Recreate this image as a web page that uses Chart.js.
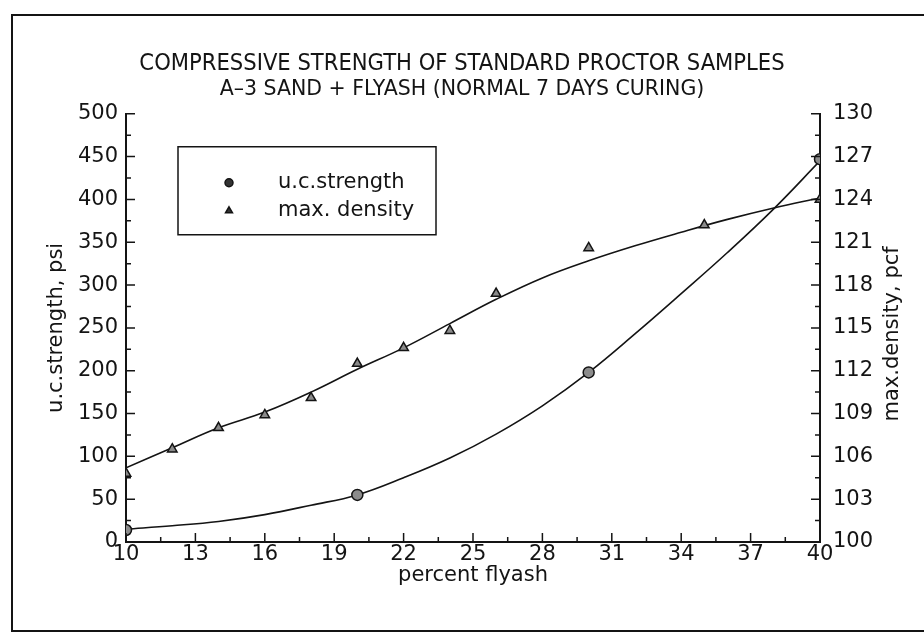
<!DOCTYPE html>
<html>
<head>
<meta charset="utf-8">
<script src="https://cdn.jsdelivr.net/npm/chart.js@4.4.0/dist/chart.umd.min.js"></script>
<style>
  html, body { margin: 0; padding: 0; background: #fff; }
  #wrap { width: 924px; height: 644px; }
</style>
</head>
<body>
<div id="wrap"><canvas id="myChart" width="924" height="644"></canvas></div>
<script>
// measured points
const strengthFlyash = [10, 20, 30, 40];
const strength = [14, 55, 198, 447];
const densityFlyash = [10, 12, 14, 16, 18, 20, 22, 24, 26, 30, 35, 40];
const density = [104.8, 106.5, 108.0, 108.9, 110.1, 112.5, 113.6, 114.8, 117.4, 120.6, 122.2, 124.0];

// fitted curves
const fitFlyash = [10, 12, 14, 16, 18, 20, 22, 24, 26, 28, 30, 32, 34, 36, 38, 40];
const strengthFit = [15, 19, 24, 32, 43, 55, 75, 98, 126, 159, 198, 243, 290, 338, 389, 445];
const densityFit = [105.2, 106.6, 108.0, 109.1, 110.5, 112.1, 113.6, 115.3, 117.0, 118.5, 119.7, 120.75, 121.7, 122.6, 123.4, 124.1];

// axis ranges and tick steps
const xRange = [10, 40], xStep = 3, xMinor = 1.5;
const yRange = [0, 500], yStep = 50, yMinor = 25;
const y1Range = [100, 130], y1Step = 3, y1Minor = 1.5;

const ink = '#141414';
const sans = "'DejaVu Sans', sans-serif";

Chart.defaults.font.family = sans;
Chart.defaults.font.size = 21;
Chart.defaults.color = ink;

function toPoints(xs, ys) {
    return xs.map((v, i) => ({ x: v, y: ys[i] }));
}

// ticks drawn on the inside of each axis
const innerTicks = {
    id: 'innerTicks',
    afterDraw(chart) {
        const { ctx, chartArea: a, scales } = chart;
        ctx.save();
        ctx.strokeStyle = ink;
        ctx.lineWidth = 1.5;
        ctx.beginPath();
        for (let v = xRange[0]; v <= xRange[1] + 0.01; v += xMinor) {
            const px = scales.x.getPixelForValue(v);
            const len = Math.abs((v - xRange[0]) % xStep) < 0.01 ? 9 : 5;
            ctx.moveTo(px, a.bottom);
            ctx.lineTo(px, a.bottom - len);
        }
        for (let v = yRange[0]; v <= yRange[1]; v += yMinor) {
            const py = scales.y.getPixelForValue(v);
            const len = v % yStep === 0 ? 9 : 5;
            ctx.moveTo(a.left, py);
            ctx.lineTo(a.left + len, py);
        }
        for (let v = y1Range[0]; v <= y1Range[1] + 0.01; v += y1Minor) {
            const py = scales.y1.getPixelForValue(v);
            const len = Math.abs((v - y1Range[0]) % y1Step) < 0.01 ? 9 : 5;
            ctx.moveTo(a.right, py);
            ctx.lineTo(a.right - len, py);
        }
        ctx.stroke();
        ctx.restore();
    }
};

// frame, right axis title, legend box
const decorations = {
    id: 'decorations',
    afterDraw(chart) {
        const { ctx, chartArea: a } = chart;
        ctx.save();
        ctx.strokeStyle = ink;
        ctx.lineWidth = 2;
        ctx.beginPath();
        ctx.moveTo(924, 15);
        ctx.lineTo(12, 15);
        ctx.lineTo(12, 631);
        ctx.lineTo(924, 631);
        ctx.stroke();

        // right axis title reads bottom to top
        ctx.fillStyle = ink;
        ctx.font = '21px ' + sans;
        ctx.textAlign = 'center';
        ctx.textBaseline = 'middle';
        ctx.translate(893, (a.top + a.bottom) / 2 + 6);
        ctx.rotate(-Math.PI / 2);
        ctx.fillText('max.density, pcf', 0, 0);
        ctx.restore();

        // legend
        const bx = a.left + 52, by = a.top + 33, bw = 258, bh = 88;
        ctx.save();
        ctx.strokeStyle = ink;
        ctx.lineWidth = 1.5;
        ctx.strokeRect(bx, by, bw, bh);
        ctx.font = '21px ' + sans;
        ctx.fillStyle = ink;
        ctx.textBaseline = 'middle';
        const entries = [chart.data.datasets[0], chart.data.datasets[2]];
        entries.forEach((ds, i) => {
            const cy = by + 36 + i * 28;
            ctx.fillStyle = '#333';
            Chart.helpers.drawPoint(ctx, {
                pointStyle: ds.pointStyle,
                radius: 4,
                borderWidth: 1.5
            }, bx + 51, cy);
            ctx.fillStyle = ink;
            ctx.fillText(ds.label, bx + 100, cy);
        });
        ctx.restore();
    }
};

const ctx = document.getElementById('myChart').getContext('2d');
const myChart = new Chart(ctx, {
    type: 'scatter',
    data: {
        datasets: [
            {
                label: 'u.c.strength',
                data: toPoints(strengthFlyash, strength),
                yAxisID: 'y',
                pointStyle: 'circle',
                pointRadius: 5.5,
                backgroundColor: '#8c8c8c',
                borderColor: ink,
                borderWidth: 1.5,
                order: 1
            },
            {
                label: 'strength fit',
                type: 'line',
                data: toPoints(fitFlyash, strengthFit),
                yAxisID: 'y',
                showLine: true,
                pointRadius: 0,
                borderColor: ink,
                borderWidth: 1.6,
                tension: 0.4,
                order: 3
            },
            {
                label: 'max. density',
                data: toPoints(densityFlyash, density),
                yAxisID: 'y1',
                pointStyle: 'triangle',
                pointRadius: 5.5,
                backgroundColor: '#8a8a8a',
                borderColor: ink,
                borderWidth: 1.5,
                order: 2
            },
            {
                label: 'density fit',
                type: 'line',
                data: toPoints(fitFlyash, densityFit),
                yAxisID: 'y1',
                showLine: true,
                pointRadius: 0,
                borderColor: ink,
                borderWidth: 1.6,
                tension: 0.4,
                order: 4
            }
        ]
    },
    options: {
        responsive: false,
        animation: false,
        layout: { padding: 0 },
        plugins: {
            legend: { display: false },
            tooltip: { enabled: false },
            title: {
                display: true,
                text: 'COMPRESSIVE STRENGTH OF STANDARD PROCTOR SAMPLES',
                font: { family: "'DejaVu Sans Condensed', 'DejaVu Sans', sans-serif", size: 23.5, weight: 'normal', lineHeight: 1.2 },
                color: ink,
                padding: { top: 50, bottom: 0 }
            },
            subtitle: {
                display: true,
                text: 'A\u20133 SAND + FLYASH (NORMAL 7 DAYS CURING)',
                font: { family: sans, size: 20.5, weight: 'normal', lineHeight: 1.1 },
                color: ink,
                padding: { top: 0, bottom: 13 }
            }
        },
        scales: {
            x: {
                type: 'linear',
                min: xRange[0],
                max: xRange[1],
                ticks: { stepSize: xStep, padding: 0, color: ink },
                grid: { display: true, drawOnChartArea: false, drawTicks: false },
                border: { display: true, color: ink, width: 2 },
                title: { display: true, text: 'percent flyash', color: ink, padding: { top: 0, bottom: 56 } },
                afterFit(scale) { scale.height = 102; }
            },
            y: {
                type: 'linear',
                position: 'left',
                min: yRange[0],
                max: yRange[1],
                ticks: { stepSize: yStep, padding: 8, color: ink },
                grid: { display: true, drawOnChartArea: false, drawTicks: false },
                border: { display: true, color: ink, width: 2 },
                title: { display: true, text: 'u.c.strength, psi', color: ink, padding: { top: 44, bottom: 0 } },
                afterFit(scale) { scale.width = 126; }
            },
            y1: {
                type: 'linear',
                position: 'right',
                min: y1Range[0],
                max: y1Range[1],
                ticks: { stepSize: y1Step, padding: 13, color: ink },
                grid: { display: true, drawOnChartArea: false, drawTicks: false },
                border: { display: true, color: ink, width: 2 },
                afterFit(scale) { scale.width = 104; }
            }
        }
    },
    plugins: [innerTicks, decorations]
});
</script>
</body>
</html>
